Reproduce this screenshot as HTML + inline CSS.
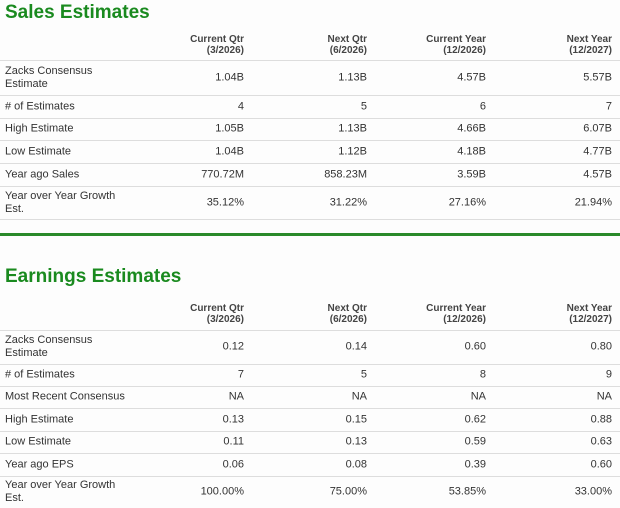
<!DOCTYPE html>
<html><head><meta charset="utf-8"><style>
body{margin:0;width:620px;height:503px;background:#fdfdfd;font-family:"Liberation Sans",Arial,sans-serif;color:#333;position:relative;overflow:hidden}
.t{position:absolute;left:5px;font-size:19px;font-weight:bold;color:#1a8a1f;margin:0}
.row{position:absolute;left:0;width:620px;border-bottom:1px solid #ddd}
.c{position:absolute;text-align:right;font-size:11px;line-height:13px;top:50%;transform:translateY(-50%)}
.l{position:absolute;left:5px;font-size:11px;line-height:13px;top:50%;transform:translateY(-50%);width:130px}
.h .c{font-weight:bold;font-size:10px;line-height:11px;color:#444}
.c1{right:376px}.c2{right:253px}.c3{right:134px}.c4{right:8px}
.sep{position:absolute;left:0;top:233px;width:620px;height:3px;background:#2a8a2a}
</style></head><body>
<h2 class="t" style="top:2px">Sales Estimates</h2>
<div id="s"></div>
<div class="sep"></div>
<h2 class="t" style="top:266px">Earnings Estimates</h2>
<div id="e"></div>
<script>
const heads=[["Current Qtr","(3/2026)"],["Next Qtr","(6/2026)"],["Current Year","(12/2026)"],["Next Year","(12/2027)"]];
const salesLabels=["Zacks Consensus Estimate","# of Estimates","High Estimate","Low Estimate","Year ago Sales","Year over Year Growth Est."];
const salesVals=[["1.04B","1.13B","4.57B","5.57B"],["4","5","6","7"],["1.05B","1.13B","4.66B","6.07B"],["1.04B","1.12B","4.18B","4.77B"],["770.72M","858.23M","3.59B","4.57B"],["35.12%","31.22%","27.16%","21.94%"]];
const salesRows=[[30,30],[61,34],[95,23],[118,22],[140,23],[163,23],[186,33]];
const earnLabels=["Zacks Consensus Estimate","# of Estimates","Most Recent Consensus","High Estimate","Low Estimate","Year ago EPS","Year over Year Growth Est."];
const earnVals=[["0.12","0.14","0.60","0.80"],["7","5","8","9"],["NA","NA","NA","NA"],["0.13","0.15","0.62","0.88"],["0.11","0.13","0.59","0.63"],["0.06","0.08","0.39","0.60"],["100.00%","75.00%","53.85%","33.00%"]];
const earnRows=[[298,32],[330,34],[364,22],[386,22],[408,23],[431,22],[453,23],[476,32]];
function build(id,name,labels,vals,geo){
  const root=document.getElementById(id);
  const mk=(top,h,isHead)=>{const r=document.createElement('div');r.className='row'+(isHead?' h':'');r.style.top=top+'px';r.style.height=h+'px';root.appendChild(r);return r;};
  let r=mk(geo[0][0],geo[0][1],true);
  
  
  heads.forEach((h,i)=>{const c=document.createElement('div');c.className='c c'+(i+1);c.innerHTML=h[0]+'<br>'+h[1];
    
    
    r.appendChild(c);});
  labels.forEach((lab,j)=>{const g=geo[j+1];const rr=mk(g[0],g[1],false);
    if(j===labels.length-1)rr.style.borderBottom=id==='e'?'none':'1px solid #ddd';
    
    
    const l=document.createElement('div');l.className='l';l.textContent=lab;
    
    
    rr.appendChild(l);
    vals[j].forEach((v,i)=>{const c=document.createElement('div');c.className='c c'+(i+1);c.textContent=v;
      
      
      rr.appendChild(c);});
  });
}
build('s','sales',salesLabels,salesVals,salesRows);
build('e','earnings',earnLabels,earnVals,earnRows);
</script>
</body></html>
